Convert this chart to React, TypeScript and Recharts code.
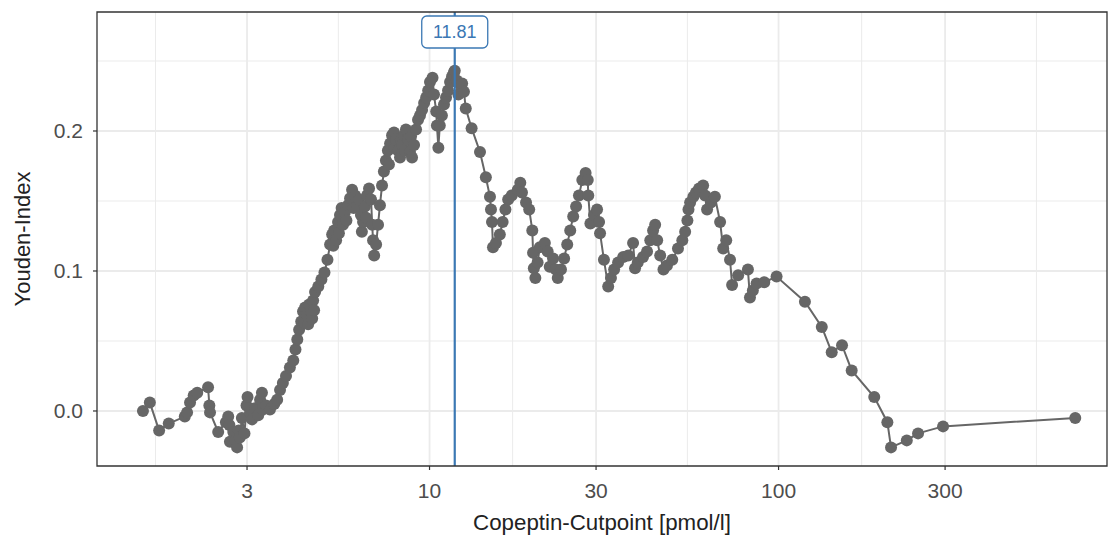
import React from 'react';
import { LineChart, Line, XAxis, YAxis, ReferenceLine, ReferenceArea } from 'recharts';

const cutpoints = [
  1.51, 1.58, 1.68, 1.79, 1.99, 2.02, 2.06, 2.11, 2.16, 2.32, 2.34, 2.35, 2.48, 2.61, 2.65, 2.67, 2.68, 2.74, 2.78, 2.81,
  2.84, 2.86, 2.9, 2.95, 2.99, 3.01, 3.06, 3.1, 3.16, 3.23, 3.27, 3.31, 3.33, 3.4, 3.49, 3.59, 3.66, 3.73, 3.8, 3.88,
  3.98, 4.07, 4.13, 4.18, 4.23, 4.29, 4.34, 4.37, 4.4, 4.46, 4.49, 4.52, 4.58, 4.61, 4.64, 4.67, 4.7, 4.8, 4.9, 5.0,
  5.1, 5.19, 5.26, 5.3, 5.33, 5.4, 5.47, 5.5, 5.54, 5.6, 5.65, 5.72, 5.78, 5.84, 5.92, 6.0, 6.06, 6.12, 6.2, 6.28,
  6.36, 6.4, 6.45, 6.53, 6.58, 6.62, 6.71, 6.8, 6.85, 6.89, 6.94, 7.03, 7.12, 7.21, 7.31, 7.4, 7.5, 7.6, 7.65, 7.71,
  7.81, 7.91, 7.95, 8.02, 8.12, 8.23, 8.28, 8.34, 8.45, 8.5, 8.56, 8.68, 8.79, 8.85, 8.91, 9.03, 9.15, 9.27, 9.39, 9.52,
  9.65, 9.78, 9.91, 10.03, 10.2, 10.3, 10.45, 10.5, 10.6, 10.7, 10.85, 11.0, 11.15, 11.3, 11.45, 11.6, 11.75, 11.81, 11.97, 12.1,
  12.25, 12.4, 12.55, 12.7, 13.2, 13.95, 14.5, 14.9, 15.0, 15.1, 15.2, 15.5, 15.9, 16.2, 16.5, 16.8, 17.2, 17.9, 18.2, 18.4,
  18.9, 19.3, 19.7, 19.8, 19.9, 20.1, 20.4, 20.7, 21.4, 21.8, 22.1, 22.6, 23.0, 23.3, 23.8, 24.3, 24.8, 25.3, 25.8, 26.3,
  26.8, 27.4, 28.0, 28.4, 28.5, 28.9, 29.6, 30.2, 30.6, 30.8, 31.6, 32.5, 33.1, 33.8, 34.7, 35.9, 37.1, 38.3, 38.8, 39.5,
  40.9, 42.0, 42.9, 43.7, 44.3, 44.9, 45.8, 46.8, 47.9, 49.6, 51.5, 53.0, 54.0, 54.8, 55.2, 55.8, 57.0, 58.0, 59.2, 60.8,
  61.6, 62.4, 64.0, 65.7, 68.0, 69.4, 70.8, 72.6, 73.6, 76.6, 81.7, 82.8, 84.4, 86.5, 91.0, 98.7, 119, 133, 142, 152,
  162, 188, 205, 210, 233, 251, 296, 708,
];

const youdenIndex = [
  0.0, 0.006, -0.014, -0.009, -0.004, -0.001, 0.006, 0.011, 0.013, 0.017, 0.004, -0.001, -0.015, -0.008, -0.004, -0.01, -0.022, -0.015, -0.021, -0.026,
  -0.014, -0.019, -0.005, -0.016, 0.004, 0.01, -0.001, -0.006, 0.002, -0.003, 0.008, 0.013, 0.001, 0.004, 0.001, 0.005, 0.008, 0.015, 0.02, 0.025,
  0.031, 0.036, 0.044, 0.051, 0.058, 0.064, 0.071, 0.063, 0.074, 0.069, 0.062, 0.076, 0.071, 0.066, 0.079, 0.072, 0.085, 0.089, 0.094, 0.099,
  0.108, 0.119, 0.126, 0.118, 0.129, 0.122, 0.135, 0.127, 0.14, 0.145, 0.133, 0.142, 0.136, 0.147, 0.152, 0.158, 0.145, 0.154, 0.147, 0.151,
  0.14, 0.128, 0.135, 0.146, 0.138, 0.154, 0.159, 0.151, 0.133, 0.122, 0.111, 0.119, 0.133, 0.147, 0.161, 0.171, 0.179, 0.186, 0.176, 0.191,
  0.197, 0.199, 0.188, 0.194, 0.186, 0.181, 0.194, 0.19, 0.197, 0.186, 0.201, 0.194, 0.185, 0.196, 0.181, 0.19, 0.201, 0.208, 0.211, 0.215,
  0.22, 0.224, 0.229, 0.235, 0.238, 0.226, 0.214, 0.204, 0.188, 0.204, 0.211, 0.219, 0.224, 0.229, 0.235, 0.239, 0.242, 0.243, 0.236, 0.226,
  0.233, 0.234, 0.228, 0.216, 0.202, 0.185, 0.167, 0.153, 0.144, 0.135, 0.117, 0.12, 0.126, 0.135, 0.144, 0.151, 0.154, 0.158, 0.163, 0.156,
  0.149, 0.144, 0.129, 0.113, 0.102, 0.095, 0.106, 0.117, 0.12, 0.114, 0.103, 0.109, 0.101, 0.095, 0.101, 0.109, 0.119, 0.129, 0.139, 0.146,
  0.154, 0.165, 0.17, 0.165, 0.154, 0.134, 0.14, 0.144, 0.135, 0.127, 0.108, 0.089, 0.095, 0.101, 0.106, 0.11, 0.111, 0.12, 0.102, 0.106,
  0.11, 0.114, 0.122, 0.129, 0.133, 0.122, 0.111, 0.101, 0.104, 0.108, 0.116, 0.122, 0.128, 0.136, 0.144, 0.149, 0.153, 0.156, 0.159, 0.161,
  0.154, 0.144, 0.149, 0.153, 0.135, 0.116, 0.122, 0.108, 0.09, 0.097, 0.101, 0.081, 0.086, 0.091, 0.092, 0.096, 0.078, 0.06, 0.042, 0.047,
  0.029, 0.01, -0.008, -0.026, -0.021, -0.016, -0.011, -0.005,
];

const xMajorTicks = [3, 10, 30, 100, 300];
const xMinorBreaks = [1.64, 5.48, 17.3, 54.8, 173, 548];
const yMajorTicks = [0, 0.1, 0.2];
const yMinorBreaks = [0.05, 0.15, 0.25];
const optimalCutpoint = 11.81;
const xDomain: [number, number] = [1.115, 873];
const yDomain: [number, number] = [-0.0393, 0.285];

const xTitle = 'Copeptin-Cutpoint [pmol/l]';
const yTitle = 'Youden-Index';

const data = cutpoints.map((x, i) => ({ x, y: youdenIndex[i] }));

const FONT = '"Liberation Sans", Arial, Helvetica, sans-serif';
const GRID = '#ebebeb';
const BLUE = '#3b78b4';
const POINT = '#666666';

export default function App() {
  return (
    <div style={{ width: 1111, height: 541, background: '#fff', fontFamily: FONT }}>
      <style>{'body{margin:0;background:#fff}'}</style>
      <LineChart width={1111} height={541} data={data} margin={{ top: 12, right: 4, left: 0, bottom: 0 }}>
        {yMinorBreaks.map((v) => (
          <ReferenceLine key={'ym' + v} y={v} stroke={GRID} strokeWidth={1} zIndex={-100} />
        ))}
        {xMinorBreaks.map((v) => (
          <ReferenceLine key={'xm' + v} x={v} stroke={GRID} strokeWidth={1} zIndex={-100} />
        ))}
        {yMajorTicks.map((v) => (
          <ReferenceLine key={'yM' + v} y={v} stroke={GRID} strokeWidth={1.8} zIndex={-100} />
        ))}
        {xMajorTicks.map((v) => (
          <ReferenceLine key={'xM' + v} x={v} stroke={GRID} strokeWidth={1.8} zIndex={-100} />
        ))}
        <XAxis
          type="number"
          dataKey="x"
          scale="log"
          domain={xDomain}
          allowDataOverflow
          ticks={xMajorTicks}
          height={75}
          tickSize={4}
          tickMargin={13}
          axisLine={false}
          tickLine={{ stroke: '#333333', strokeWidth: 1.2 }}
          tick={{ fill: '#4d4d4d', fontSize: 21, fontFamily: FONT }}
          label={(props: any) => {
            const vb = props.viewBox || {};
            return (
              <text
                x={vb.x + vb.width / 2}
                y={vb.y + 56}
                textAnchor="middle"
                dominantBaseline="central"
                fill="#222"
                fontSize={22.3}
                fontFamily={FONT}
              >
                {xTitle}
              </text>
            );
          }}
        />
        <YAxis
          type="number"
          domain={yDomain}
          allowDataOverflow
          ticks={yMajorTicks}
          width={97}
          tickSize={4}
          tickMargin={10}
          axisLine={false}
          tickLine={{ stroke: '#333333', strokeWidth: 1.2 }}
          tick={{ fill: '#4d4d4d', fontSize: 21, fontFamily: FONT }}
          tickFormatter={(v: number) => v.toFixed(1)}
          label={(props: any) => {
            const vb = props.viewBox || {};
            const cx = vb.x + 22;
            const cy = vb.y + vb.height / 2;
            return (
              <text
                x={cx}
                y={cy}
                transform={`rotate(-90 ${cx} ${cy})`}
                textAnchor="middle"
                dominantBaseline="central"
                fill="#222"
                fontSize={22}
                fontFamily={FONT}
              >
                {yTitle}
              </text>
            );
          }}
        />
        <Line
          type="linear"
          dataKey="y"
          stroke={POINT}
          strokeWidth={2}
          dot={{ r: 6, fill: POINT, stroke: POINT, strokeWidth: 0 }}
          activeDot={false}
          isAnimationActive={false}
        />
        <ReferenceLine
          x={optimalCutpoint}
          stroke={BLUE}
          strokeWidth={2.2}
          zIndex={1500}
          label={(props: any) => {
            const vb = props.viewBox || {};
            const cx = vb.x;
            const cy = vb.y + 20;
            return (
              <g>
                <rect x={cx - 33} y={cy - 16} width={66} height={32} rx={5} ry={5} fill="#fff" stroke={BLUE} strokeWidth={1.3} />
                <text x={cx} y={cy} textAnchor="middle" dominantBaseline="central" fill={BLUE} fontSize={18} fontFamily={FONT}>
                  {optimalCutpoint.toFixed(2)}
                </text>
              </g>
            );
          }}
        />
        <ReferenceArea
          x1={xDomain[0]}
          x2={xDomain[1]}
          y1={yDomain[0]}
          y2={yDomain[1]}
          fill="none"
          fillOpacity={0}
          stroke="#333333"
          strokeWidth={1.3}
          ifOverflow="visible"
          zIndex={1600}
        />
      </LineChart>
    </div>
  );
}
